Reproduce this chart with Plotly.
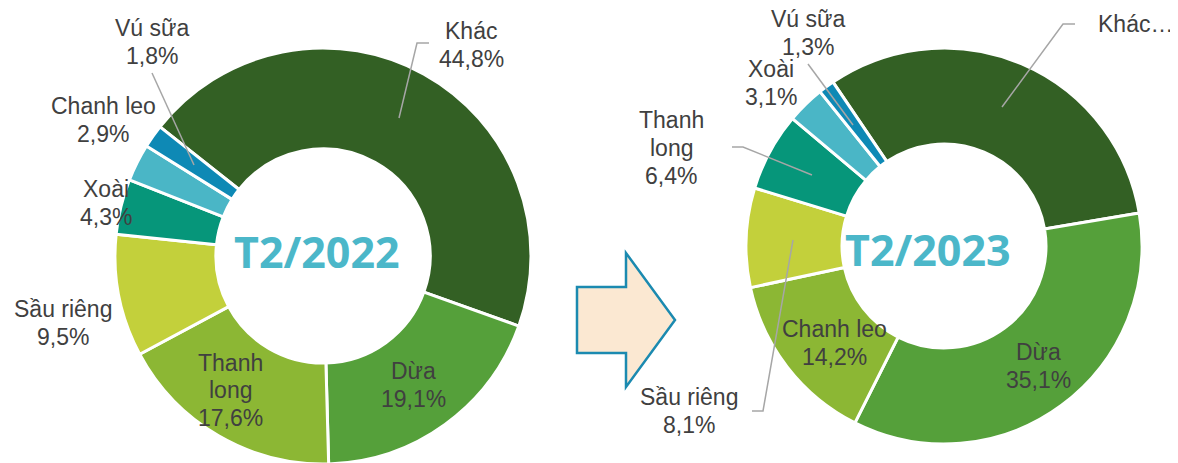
import plotly.graph_objects as go

# ---------------- data ----------------
cats_2022 = ["Khác", "Dừa", "Thanh long", "Sầu riêng", "Xoài", "Chanh leo", "Vú sữa"]
vals_2022 = [44.8, 19.1, 17.6, 9.5, 4.3, 2.9, 1.8]

cats_2023 = ["Khác", "Dừa", "Chanh leo", "Sầu riêng", "Thanh long", "Xoài", "Vú sữa"]
vals_2023 = [31.8, 35.1, 14.2, 8.1, 6.4, 3.1, 1.3]

slice_colors = ["#336024", "#55A03A", "#8CB734", "#C3D03B", "#06967A", "#4AB6C6", "#0E89B5"]
titles = ["T2/2022", "T2/2023"]

# ---------------- layout helpers ----------------
W, H = 1178, 463
OFF = 8  # page body margin of the html page


def fx(x):
    return (x - OFF) / W


def fy(y):
    return 1 - (y - OFF) / H


def label_lines(name, value):
    name_lines = ["Thanh", "long"] if name == "Thanh long" else [name]
    return name_lines + [f"{value:.1f}%".replace(".", ",")]


fig = go.Figure()

fig.add_trace(go.Pie(
    labels=cats_2022, values=vals_2022, sort=False, direction="clockwise",
    rotation=308.4, hole=0.515, textinfo="none", hoverinfo="label+percent",
    marker=dict(colors=slice_colors, line=dict(color="white", width=3)),
    domain=dict(x=[fx(115), fx(531)], y=[fy(464), fy(48)]), showlegend=False,
))
fig.add_trace(go.Pie(
    labels=cats_2023, values=vals_2023, sort=False, direction="clockwise",
    rotation=325.9, hole=0.515, textinfo="none", hoverinfo="label+percent",
    marker=dict(colors=slice_colors, line=dict(color="white", width=3)),
    domain=dict(x=[fx(746), fx(1142)], y=[fy(444), fy(48)]), showlegend=False,
))

label_font = dict(family="Liberation Sans, Arial, sans-serif", size=23, color="#404040")
LINE_H = 27.5

# label positions (pixel centres of each text block)
pos_2022 = {
    "Khác": (471, 45), "Dừa": (413, 385), "Thanh long": (230, 390),
    "Sầu riêng": (63, 323), "Xoài": (106, 203), "Chanh leo": (103, 120),
    "Vú sữa": (152, 42),
}
pos_2023 = {
    "Dừa": (1038, 366), "Chanh leo": (834, 343), "Sầu riêng": (689, 411),
    "Thanh long": (671, 148), "Xoài": (771, 83), "Vú sữa": (808, 33),
}

annotations = []


def add_block(lines, cx, cy):
    n = len(lines)
    for i, t in enumerate(lines):
        y = cy + (i - (n - 1) / 2) * LINE_H
        annotations.append(dict(x=fx(cx), y=fy(y), xref="paper", yref="paper",
                                text=t, showarrow=False, xanchor="center",
                                yanchor="middle", font=label_font))


for name, v in zip(cats_2022, vals_2022):
    add_block(label_lines(name, v), *pos_2022[name])
for name, v in zip(cats_2023, vals_2023):
    if name == "Khác":
        add_block(["Khác…"], 1135, 24)
        continue
    add_block(label_lines(name, v), *pos_2023[name])

title_font = dict(family="Open Sans, sans-serif", size=43, color="#4BB7C9", weight="bold")
annotations.append(dict(x=fx(317), y=fy(251), xref="paper", yref="paper", text=f"<b>{titles[0]}</b>",
                        showarrow=False, xanchor="center", yanchor="middle", font=title_font))
annotations.append(dict(x=fx(928), y=fy(250), xref="paper", yref="paper", text=f"<b>{titles[1]}</b>",
                        showarrow=False, xanchor="center", yanchor="middle", font=title_font))


def path(points, close=False):
    s = "M " + " L ".join(f"{fx(x):.5f},{fy(y):.5f}" for x, y in points)
    return s + (" Z" if close else "")


leader_lines = [
    [(429, 43), (417, 43), (399, 118)],
    [(152, 73), (194, 165)],
    [(808, 64), (853, 125)],
    [(732, 147), (743, 147), (812, 175)],
    [(1075, 24), (1063, 24), (1002, 107)],
    [(752, 411), (763, 411), (793, 240)],
]
shapes = []
for pts in leader_lines:
    shapes.append(dict(type="path", xref="paper", yref="paper", path=path(pts),
                       line=dict(color="#A6A6A6", width=1.5)))

arrow = [(577, 287), (626, 287), (626, 253), (675, 320), (626, 387), (626, 353), (577, 353)]
shapes.append(dict(type="path", xref="paper", yref="paper", path=path(arrow, close=True),
                   fillcolor="#FBE8D2", line=dict(color="#1B8AB0", width=2.5)))

fig.update_layout(
    width=W, height=H, margin=dict(l=0, r=0, t=0, b=0),
    paper_bgcolor="white", plot_bgcolor="white",
    annotations=annotations, shapes=shapes,
)

fig.write_html("out.html")
